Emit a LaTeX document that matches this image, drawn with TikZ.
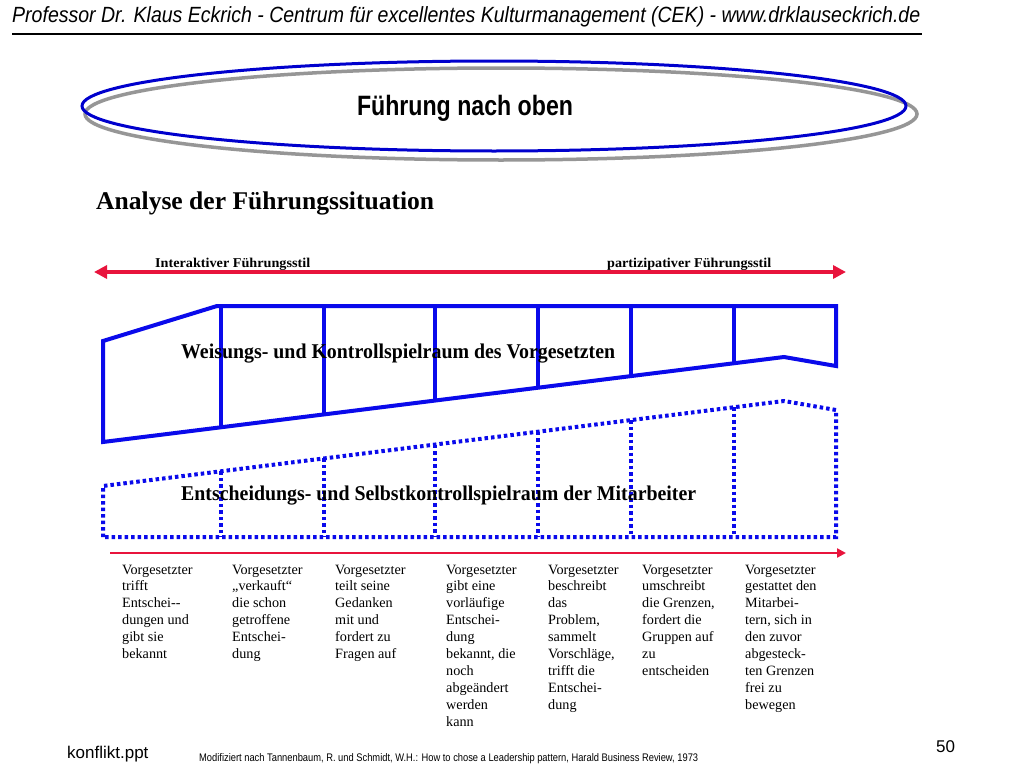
\documentclass[tikz,border=0pt]{standalone}
\usepackage{fontspec}
\setmainfont{Liberation Serif}
\setsansfont{Liberation Sans}
\usetikzlibrary{arrows.meta}
\definecolor{cekblue}{RGB}{10,10,235}
\definecolor{ringblue}{RGB}{0,0,205}
\definecolor{ringgray}{RGB}{150,150,150}
\definecolor{cekred}{RGB}{232,20,60}
\newcommand{\fitw}[2]{\resizebox{#1}{\height}{#2}}

\begin{document}
\begin{tikzpicture}[x=1pt, y=-1pt,
    frame/.style={draw=cekblue, line width=4pt, line join=miter},
    dotframe/.style={draw=cekblue, line width=4pt, dash pattern=on 3.5pt off 3pt},
    band/.style={inner sep=0pt, anchor=base west,
                 font=\bfseries\fontsize{21}{24}\selectfont},
    arrlab/.style={inner sep=0pt, anchor=base west,
                   font=\bfseries\fontsize{13.5}{16}\selectfont},
    col/.style={inner sep=0pt, anchor=north west, align=left,
                font=\fontsize{14.2}{16.95}\selectfont},
    rarr/.style={draw=cekred, line width=4.5pt,
                 {Triangle[length=13pt,width=13pt]}-{Triangle[length=13pt,width=13pt]}},
    sarr/.style={draw=cekred, line width=2.5pt, -{Triangle[length=9pt,width=9pt]}},
  ]
    \useasboundingbox[fill=white] (0,0) rectangle (1024,768);

    % Kopfzeile
    \node[inner sep=0pt, anchor=base west] (head) at (12,23)
      {\fitw{908pt}{\sffamily\itshape\fontsize{22}{26}\selectfont
       Professor Dr. Klaus Eckrich - Centrum für excellentes Kulturmanagement (CEK) - www.drklauseckrich.de}};
    \draw[line width=1.6pt] (12,34) -- (922,34);

    % Titel-Ellipse
    \draw[draw=ringgray, line width=3.5pt] (501,114) ellipse [x radius=416, y radius=46];
    \draw[draw=ringblue, line width=3pt] (494,106) ellipse [x radius=412, y radius=45];
    \node[inner sep=0pt] (title) at (465,108)
      {\fitw{216pt}{\sffamily\bfseries\fontsize{28}{32}\selectfont Führung nach oben}};

    \node[inner sep=0pt, anchor=base west] (analyse) at (96,209)
      {\fitw{338pt}{\bfseries\fontsize{25.5}{30}\selectfont Analyse der Führungssituation}};

    % Führungsstil-Achse
    \coordinate (la) at (94,272);
    \coordinate (ra) at (846,272);
    \draw[rarr] (la) -- (ra);
    \node[arrlab] (inter) at (155,267) {\fitw{155pt}{Interaktiver Führungsstil}};
    \node[arrlab] (parti) at (607,267) {\fitw{164pt}{partizipativer Führungsstil}};

    % Spielraum des Vorgesetzten
    \draw[frame] (103,341) -- (217,306) -- (836,306) -- (836,366)
      -- (784,357) -- (103,442) -- cycle;
    \foreach \x in {221,324,435,538,631,734}
      \draw[frame] (\x,306) -- (\x,{442-(\x-103)/681*85});
    \node[band] (weis) at (181,358)
      {\fitw{434pt}{Weisungs- und Kontrollspielraum des Vorgesetzten}};

    % Spielraum der Mitarbeiter
    \draw[dotframe] (103,537) -- (103,486) -- (784,401) -- (836,410)
      -- (836,537) -- cycle;
    \foreach \x in {221,324,435,538,631,734}
      \draw[dotframe] (\x,{486-(\x-103)/681*85}) -- (\x,537);
    \node[band] (ents) at (181,500)
      {\fitw{515pt}{Entscheidungs- und Selbstkontrollspielraum der Mitarbeiter}};

    \coordinate (lb) at (110,553);
    \coordinate (rb) at (846,553);
    \draw[sarr] (lb) -- (rb);

    % Verhaltensstufen
    \foreach \x/\txt [count=\i] in {
        122/{Vorgesetzter\\trifft\\Entschei-{}-\\dungen und\\gibt sie\\bekannt},
        232/{Vorgesetzter\\„verkauft“\\die schon\\getroffene\\Entschei-\\dung},
        335/{Vorgesetzter\\teilt seine\\Gedanken\\mit und\\fordert zu\\Fragen auf},
        446/{Vorgesetzter\\gibt eine\\vorläufige\\Entschei-\\dung\\bekannt, die\\noch\\abgeändert\\werden\\kann},
        548/{Vorgesetzter\\beschreibt\\das\\Problem,\\sammelt\\Vorschläge,\\trifft die\\Entschei-\\dung},
        642/{Vorgesetzter\\umschreibt\\die Grenzen,\\fordert die\\Gruppen auf\\zu\\entscheiden},
        745/{Vorgesetzter\\gestattet den\\Mitarbei-\\tern, sich in\\den zuvor\\abgesteck-\\ten Grenzen\\frei zu\\bewegen}}
      \node[col] (c\i) at (\x,564.5) {\txt};

    % Fußzeile
    \node[inner sep=0pt, anchor=base west] (file) at (67,758)
      {\sffamily\fontsize{17}{20}\selectfont konflikt.ppt};
    \node[inner sep=0pt, anchor=base west] (quelle) at (199,761)
      {\fitw{499pt}{\sffamily\fontsize{11}{13}\selectfont Modifiziert nach Tannenbaum, R. und Schmidt, W.H.: How to chose a Leadership pattern, Harald Business Review, 1973}};
    \node[inner sep=0pt, anchor=base west] (page) at (936,752)
      {\sffamily\fontsize{17}{20}\selectfont 50};
\end{tikzpicture}
\end{document}
